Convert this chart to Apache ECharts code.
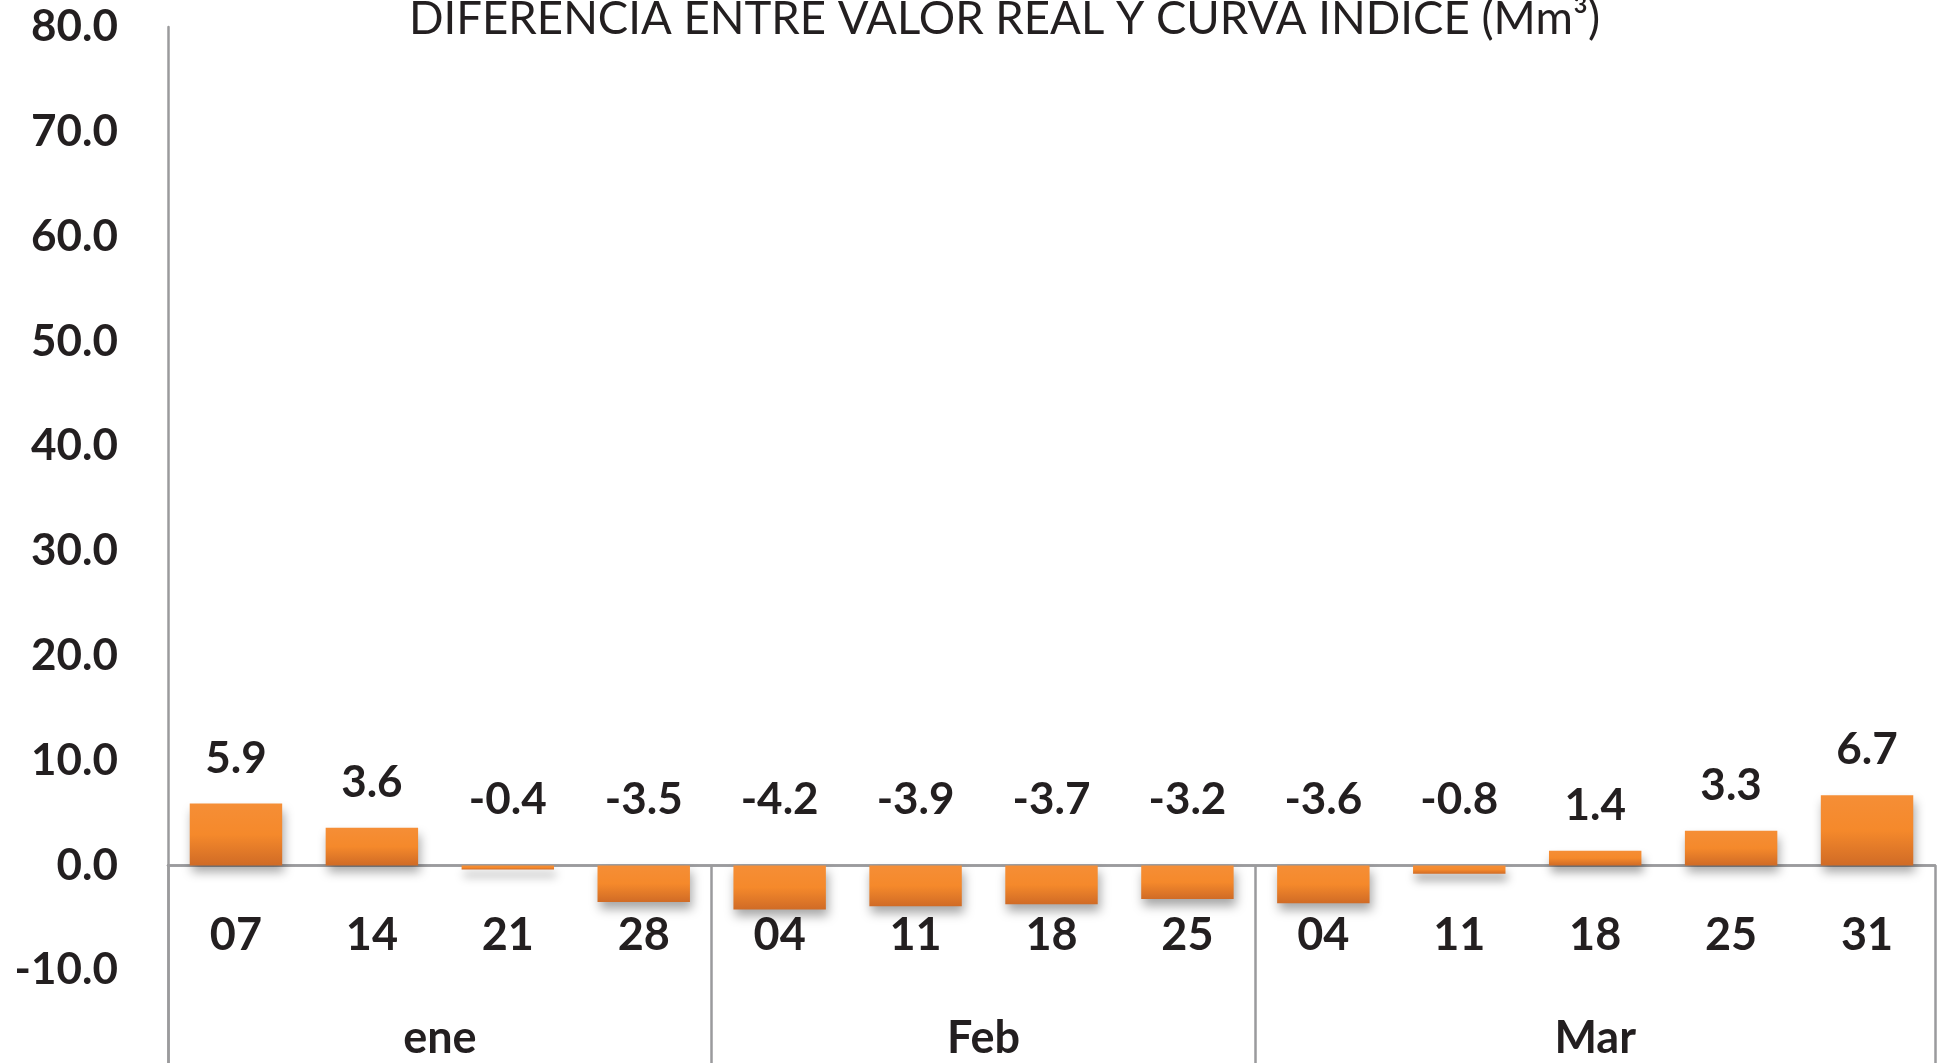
<!DOCTYPE html>
<html lang="es">
<head>
    <meta charset="UTF-8">
    <title>Diferencia entre valor real y curva indice</title>
    <script src="https://cdn.jsdelivr.net/npm/echarts@6/dist/echarts.min.js"></script>
    <style>
        html, body { margin: 0; padding: 0; background: #fff; }
        #main { width: 1944px; height: 1063px; }
    </style>
</head>
<body>
    <div id="main"></div>
    <script type="text/javascript">
        // datos semanales
        var weeks = ['07', '14', '21', '28', '04', '11', '18', '25', '04', '11', '18', '25', '31'];
        var diffs = [5.9, 3.6, -0.4, -3.5, -4.2, -3.9, -3.7, -3.2, -3.6, -0.8, 1.4, 3.3, 6.7];
        var months = ['ene', 'Feb', 'Mar'];
        var weeksPerMonth = [4, 4, 5];

        var FONT = 'Lato, "Open Sans", sans-serif';
        var INK = '#231F20';
        var AXIS = '#9B9B9D';

        var Y_MIN = -20, Y_MAX = 80;
        var GRID_TOP = 27, GRID_BOTTOM = -12, H = 1063;
        // desplazamiento para llevar los ejes x hasta la linea del cero
        var plotH = H - GRID_TOP - GRID_BOTTOM;
        var zeroShift = -plotH * (0 - Y_MIN) / (Y_MAX - Y_MIN);

        // limites y centros de cada mes en el eje de meses (0..13)
        var bounds = [0], centers = [];
        var acc = 0;
        for (var i = 0; i < weeksPerMonth.length; i++) {
            centers.push(acc + weeksPerMonth[i] / 2);
            acc += weeksPerMonth[i];
            bounds.push(acc);
        }

        var barColor = new echarts.graphic.LinearGradient(0, 0, 0, 1, [
            { offset: 0, color: '#F58E36' },
            { offset: 0.5, color: '#F5892B' },
            { offset: 1, color: '#D06B26' }
        ]);

        var myChart = echarts.init(document.getElementById('main'));
        var option = {
            backgroundColor: '#fff',
            animation: false,
            title: {
                text: 'DIFERENCIA ENTRE VALOR REAL Y CURVA INDICE (Mm³)',
                left: 404,
                top: -9,
                textStyle: {
                    fontFamily: FONT,
                    fontWeight: 'normal',
                    fontSize: 45.5,
                    color: INK
                }
            },
            grid: {
                left: 168,
                right: 9,
                top: GRID_TOP,
                bottom: GRID_BOTTOM,
                outerBoundsMode: 'none',
                containLabel: false
            },
            xAxis: [{
                type: 'category',
                data: weeks,
                offset: zeroShift,
                axisLine: { onZero: false, lineStyle: { color: AXIS, width: 2.5 } },
                axisTick: { show: false },
                axisLabel: {
                    margin: 48,
                    fontFamily: FONT,
                    fontWeight: 'bold',
                    fontSize: 45,
                    color: INK
                }
            }, {
                type: 'value',
                position: 'bottom',
                min: 0,
                max: weeks.length,
                offset: zeroShift,
                axisLine: { onZero: false, lineStyle: { color: AXIS, width: 2.5 } },
                splitLine: { show: false },
                axisTick: {
                    show: true,
                    customValues: bounds,
                    length: 220,
                    lineStyle: { color: AXIS, width: 2.5 }
                },
                axisLabel: {
                    customValues: centers,
                    margin: 151,
                    fontFamily: FONT,
                    fontWeight: 'bold',
                    fontSize: 45,
                    color: INK,
                    formatter: function (v) {
                        var k = centers.indexOf(v);
                        return k >= 0 ? months[k] : '';
                    }
                }
            }],
            yAxis: {
                type: 'value',
                min: Y_MIN,
                max: Y_MAX,
                interval: 10,
                axisLine: { show: true, onZero: false, lineStyle: { color: AXIS, width: 2.5 } },
                axisTick: { show: false },
                splitLine: { show: false },
                axisLabel: {
                    margin: 50,
                    fontFamily: FONT,
                    fontWeight: 'bold',
                    fontSize: 44,
                    color: INK,
                    formatter: function (v) { return v <= Y_MIN ? '' : v.toFixed(1); }
                }
            },
            series: [{
                type: 'bar',
                xAxisIndex: 0,
                barCategoryGap: '32%',
                data: diffs.map(function (v) {
                    return {
                        value: v,
                        label: { distance: v < 0 ? 44 : 23 }
                    };
                }),
                itemStyle: {
                    color: barColor,
                    shadowColor: 'rgba(0, 0, 0, 0.35)',
                    shadowBlur: 10,
                    shadowOffsetX: 2,
                    shadowOffsetY: 7
                },
                label: {
                    show: true,
                    position: 'top',
                    fontFamily: FONT,
                    fontWeight: 'bold',
                    fontSize: 44,
                    color: INK,
                    formatter: function (p) { return p.value.toFixed(1); }
                }
            }]
        };

        myChart.setOption(option);
    </script>
</body>
</html>
